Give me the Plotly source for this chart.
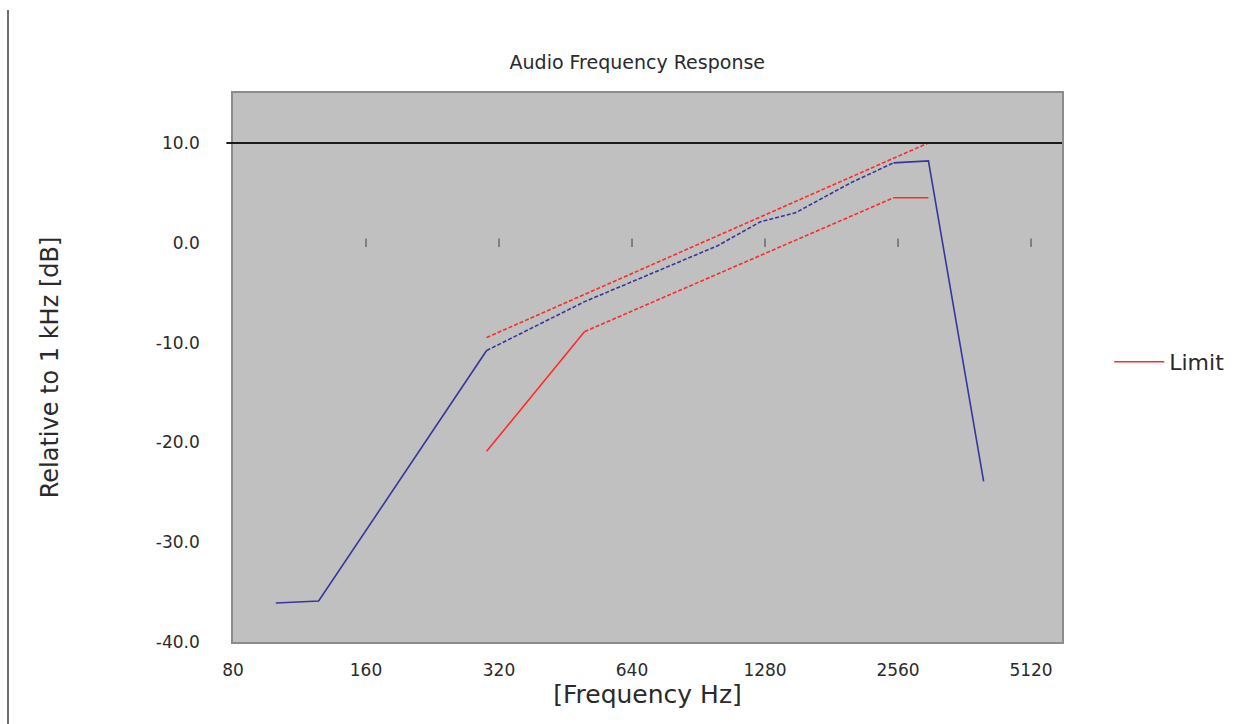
import math
import plotly.graph_objects as go

# ---- data ----
freq_measured = [100, 125, 300, 500, 1000, 1250, 1500, 2000, 2500, 3000, 4000]
db_measured = [-36.1, -35.9, -10.8, -5.9, -0.3, 2.1, 3.0, 6.0, 8.0, 8.2, -23.9]

freq_limit_upper = [300, 3000]
db_limit_upper = [-9.5, 10.0]

freq_limit_lower = [300, 500, 2500, 3000]
db_limit_lower = [-20.9, -8.9, 4.5, 4.5]

x_tick_vals = [80, 160, 320, 640, 1280, 2560, 5120]
x_tick_text = ["80", "160", "320", "640", "1280", "2560", "5120"]
y_tick_vals = [-40, -30, -20, -10, 0, 10]
y_tick_text = ["-40.0", "-30.0", "-20.0", "-10.0", "0.0", "10.0"]
ref_level = 10.0

BLUE = "#36369c"
RED = "#ff2a2a"
TXT = "#2a2a2a"
FONT = "DejaVu Sans, Verdana, sans-serif"

fig = go.Figure()


def add_series(xs, ys, color, name, legend_first):
    """Draw a polyline; shallow segments get a fine dash (mimics reference look)."""
    shown = not legend_first
    groups = []
    for i in range(len(xs) - 1):
        octs = math.log2(xs[i + 1] / xs[i])
        slope = abs(ys[i + 1] - ys[i]) / octs
        style = "4px,2px" if 1.5 < slope < 10 else "solid"
        if groups and groups[-1][0] == style:
            groups[-1][1].append(i + 1)
        else:
            groups.append([style, [i, i + 1]])
    for style, idx in groups:
        show = False
        if legend_first and not shown and style == "solid":
            show = True
            shown = True
        fig.add_trace(go.Scatter(
            x=[xs[k] for k in idx], y=[ys[k] for k in idx],
            mode="lines", name=name, legendgroup=name,
            showlegend=show,
            line=dict(color=color, width=1.6, dash=style),
            hoverinfo="x+y",
        ))


add_series(freq_measured, db_measured, BLUE, "Measured", False)
add_series(freq_limit_lower, db_limit_lower, RED, "Limit", True)
add_series(freq_limit_upper, db_limit_upper, RED, "Limit", False)

# small tick marks where the horizontal axis crosses at 0 dB
fig.add_trace(go.Scatter(
    x=x_tick_vals[1:], y=[0] * (len(x_tick_vals) - 1), mode="markers",
    marker=dict(symbol="line-ns-open", size=6, color="#555555",
                line=dict(color="#555555", width=1.2)),
    showlegend=False, hoverinfo="skip",
))

x_min = math.log10(80)
x_max = math.log10(80 * 2 ** 6.233)

fig.update_layout(
    width=1255, height=724,
    margin=dict(l=233, r=193, t=93, b=82),
    paper_bgcolor="white",
    plot_bgcolor="#c0c0c0",
    font=dict(family=FONT, color=TXT, size=14),
    title=dict(text="Audio Frequency Response", x=0.5078, xanchor="center",
               y=1 - 62 / 724, yanchor="middle",
               font=dict(size=19, color=TXT, family=FONT)),
    showlegend=True,
    legend=dict(x=1.057, y=0.51, xanchor="left", yanchor="middle",
                bgcolor="rgba(0,0,0,0)", font=dict(size=22, color=TXT),
                itemwidth=50),
    xaxis=dict(
        type="log", range=[x_min, x_max],
        tickvals=x_tick_vals, ticktext=x_tick_text,
        ticks="", showgrid=False, zeroline=False,
        showline=True, mirror=True, linecolor="#8c8c8c", linewidth=1.5,
        tickfont=dict(size=17, color=TXT), ticklabelstandoff=12,
        title=dict(text="[Frequency Hz]", font=dict(size=25, color=TXT), standoff=0),
    ),
    yaxis=dict(
        range=[-40, 15],
        tickvals=y_tick_vals, ticktext=y_tick_text,
        ticks="", showgrid=False, zeroline=False,
        showline=True, mirror=True, linecolor="#8c8c8c", linewidth=1.5,
        tickfont=dict(size=17, color=TXT), ticklabelstandoff=28,
        title=dict(text="Relative to 1 kHz [dB]", font=dict(size=24, color=TXT), standoff=90),
    ),
)

# reference level line at +10 dB
fig.add_shape(type="line", xref="x domain", yref="y", x0=-0.008, x1=1,
              y0=ref_level, y1=ref_level, line=dict(color="#1a1a1a", width=2), layer="above")
# page border line at left edge of the original
fig.add_shape(type="line", xref="paper", yref="paper",
              x0=(8 - 233) / 829, x1=(8 - 233) / 829,
              y0=(642 - 10) / 549, y1=(642 - 724) / 549,
              line=dict(color="#6e6e6e", width=2))

fig.write_html("out.html")
